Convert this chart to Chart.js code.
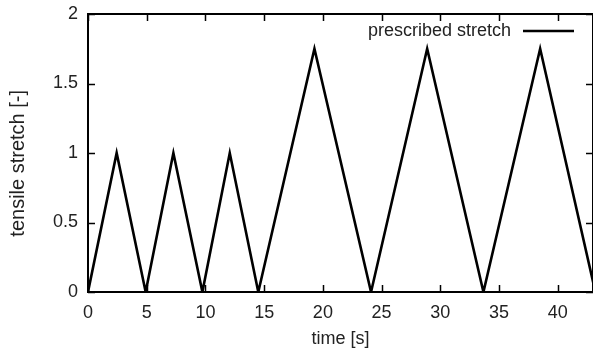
<!DOCTYPE html>
<html>
<head>
<meta charset="utf-8">
<script src="https://cdn.jsdelivr.net/npm/chart.js@4.4.1/dist/chart.umd.min.js"></script>
<style>
html,body{margin:0;padding:0;background:#fff;}
#wrap{width:593px;height:350px;position:relative;}
</style>
</head>
<body>
<div id="wrap"><canvas id="c" width="593" height="350"></canvas></div>
<script>
// Data
const seriesLabel = "prescribed stretch";
const timeValues = [0, 2.44, 4.91, 7.27, 9.74, 12.07, 14.5, 19.28, 24.1, 28.88, 33.67, 38.5, 43.2];
const stretchValues = [0, 1, 0, 1, 0, 1, 0, 1.75, 0, 1.75, 0, 1.75, 0];
const xTickValues = [0, 5, 10, 15, 20, 25, 30, 35, 40];
const yTickValues = [0, 0.5, 1, 1.5, 2];
const xTitle = "time [s]";
const yTitle = "tensile stretch [-]";

const FONT = "'Liberation Sans', Arial, Helvetica, sans-serif";
const TXT = "#222";
const FS = 18;

const points = timeValues.map((t, i) => ({x: t, y: stretchValues[i]}));

const framePlugin = {
  id: 'frame',
  afterDraw(chart) {
    const {ctx, chartArea: a, scales: {x, y}} = chart;
    ctx.save();
    ctx.strokeStyle = '#000';
    ctx.lineWidth = 1.5;
    const tl = 7;
    ctx.beginPath();
    xTickValues.forEach(v => {
      const px = Math.round(x.getPixelForValue(v)) + 0.5;
      ctx.moveTo(px, a.bottom); ctx.lineTo(px, a.bottom - tl);
      ctx.moveTo(px, a.top); ctx.lineTo(px, a.top + tl);
    });
    yTickValues.forEach(v => {
      const py = Math.round(y.getPixelForValue(v)) + 0.5;
      ctx.moveTo(a.left, py); ctx.lineTo(a.left + tl, py);
      ctx.moveTo(a.right, py); ctx.lineTo(a.right - tl, py);
    });
    ctx.stroke();
    ctx.lineWidth = 2;
    ctx.strokeRect(a.left, a.top, a.right - a.left, a.bottom - a.top);
    // legend
    const ds = chart.data.datasets[0];
    ctx.font = FS + "px " + FONT;
    ctx.fillStyle = TXT;
    ctx.textAlign = 'right';
    ctx.textBaseline = 'middle';
    const ly = a.top + 17;
    ctx.fillText(ds.label, a.right - 82, ly);
    ctx.strokeStyle = ds.borderColor;
    ctx.lineWidth = ds.borderWidth;
    ctx.beginPath();
    ctx.moveTo(a.right - 70, ly);
    ctx.lineTo(a.right - 19, ly);
    ctx.stroke();
    // y axis title
    ctx.font = "20px " + FONT;
    ctx.textAlign = 'center';
    ctx.textBaseline = 'middle';
    ctx.translate(18, a.top + (a.bottom - a.top) * 0.537);
    ctx.rotate(-Math.PI / 2);
    ctx.fillText(yTitle, 0, 0);
    ctx.restore();
  }
};

new Chart(document.getElementById('c'), {
  type: 'line',
  data: {
    datasets: [{
      label: seriesLabel,
      data: points,
      borderColor: '#000',
      borderWidth: 2.6,
      pointRadius: 0,
      tension: 0,
      fill: false
    }]
  },
  options: {
    responsive: false,
    animation: false,
    devicePixelRatio: 1,
    layout: {padding: {top: 14, right: 0, left: 0, bottom: 0}},
    plugins: {legend: {display: false}, tooltip: {enabled: false}},
    scales: {
      x: {
        type: 'linear', min: 0, max: 43,
        afterFit(s) { s.height = 58; s.paddingLeft = 0; s.paddingRight = 0; },
        grid: {display: false, drawTicks: false},
        border: {display: false},
        ticks: {
          includeBounds: false, stepSize: 5, autoSkip: false, maxRotation: 0,
          padding: 10, color: TXT, font: {family: FONT, size: FS},
          callback: v => String(v)
        },
        afterBuildTicks(s) { s.ticks = xTickValues.map(v => ({value: v})); },
        title: {display: true, text: xTitle, color: TXT, font: {family: FONT, size: FS}, padding: {top: 2, bottom: 0}}
      },
      y: {
        type: 'linear', min: 0, max: 2,
        afterFit(s) { s.width = 88; s.paddingTop = 0; s.paddingBottom = 0; },
        grid: {display: false, drawTicks: false},
        border: {display: false},
        ticks: {
          stepSize: 0.5, padding: 10, color: TXT, font: {family: FONT, size: FS},
          callback: v => String(v)
        },
        afterBuildTicks(s) { s.ticks = yTickValues.map(v => ({value: v})); },
        title: {display: false}
      }
    }
  },
  plugins: [framePlugin]
});
</script>
</body>
</html>
